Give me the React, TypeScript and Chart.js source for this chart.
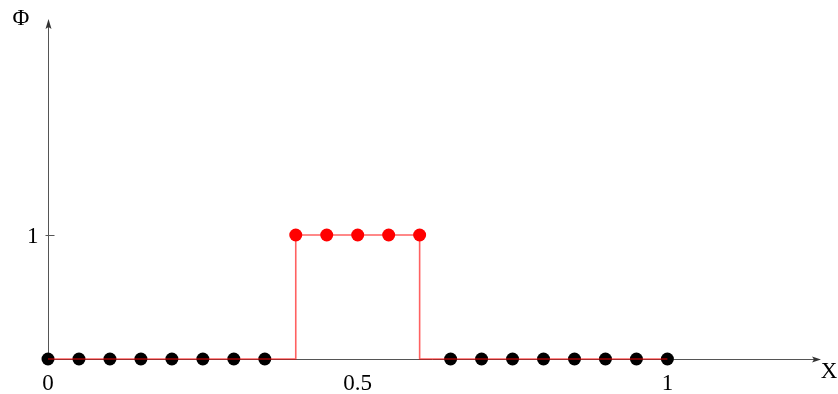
import { useEffect, useRef } from "react";
import { Chart, registerables } from "chart.js";

Chart.register(...registerables);

// ---- data ----
const blackX = [0, 0.05, 0.1, 0.15, 0.2, 0.25, 0.3, 0.35, 0.65, 0.7, 0.75, 0.8, 0.85, 0.9, 0.95, 1];
const blackY = [0, 0, 0, 0, 0, 0, 0, 0, 0, 0, 0, 0, 0, 0, 0, 0];
const redX = [0.4, 0.45, 0.5, 0.55, 0.6];
const redY = [1, 1, 1, 1, 1];
const lineX = [0, 0.4, 0.4, 0.6, 0.6, 1];
const lineY = [0, 0, 1, 1, 0, 0];
const xTickValues = [0, 0.5, 1];
const xTickLabels = ["0", "0.5", "1"];
const yTickValues = [1];
const yTickLabels = ["1"];
const xAxisTitle = "X";
const yAxisTitle = "Φ";
const X_MAX = 1.248;
const Y_MAX = 2.742;

const FONT = '23px "Liberation Serif", "Times New Roman", serif';
const AXIS_COLOR = "#555555";

const toPts = (xs: number[], ys: number[]) => xs.map((x, i) => ({ x, y: ys[i] }));

const axesPlugin = {
  id: "arrowAxes",
  beforeDatasetsDraw(chart: any) {
    const { ctx, chartArea, scales } = chart;
    const xs = scales.x;
    const ys = scales.y;
    const ox = Math.round(xs.getPixelForValue(0)) + 0.5;
    const oy = Math.round(ys.getPixelForValue(0)) + 0.5;
    const right = chartArea.right;
    const top = chartArea.top;
    ctx.save();
    ctx.strokeStyle = AXIS_COLOR;
    ctx.fillStyle = "#333333";
    ctx.lineWidth = 1;
    // x axis
    ctx.beginPath();
    ctx.moveTo(ox, oy);
    ctx.lineTo(right - 4, oy);
    ctx.stroke();
    // y axis
    ctx.beginPath();
    ctx.moveTo(ox, oy);
    ctx.lineTo(ox, top + 4);
    ctx.stroke();
    // arrowheads
    ctx.beginPath();
    ctx.moveTo(right, oy);
    ctx.lineTo(right - 9, oy - 3);
    ctx.lineTo(right - 7, oy);
    ctx.lineTo(right - 9, oy + 3);
    ctx.closePath();
    ctx.fill();
    ctx.beginPath();
    ctx.moveTo(ox, top);
    ctx.lineTo(ox - 3, top + 10);
    ctx.lineTo(ox, top + 8);
    ctx.lineTo(ox + 3, top + 10);
    ctx.closePath();
    ctx.fill();
    // y ticks
    ctx.fillStyle = "#000000";
    ctx.font = FONT;
    ctx.textAlign = "right";
    ctx.textBaseline = "middle";
    yTickValues.forEach((v, i) => {
      const py = Math.round(ys.getPixelForValue(v)) + 0.5;
      ctx.beginPath();
      ctx.moveTo(ox - 3, py);
      ctx.lineTo(ox + 6, py);
      ctx.stroke();
      ctx.fillText(yTickLabels[i], ox - 10, py + 1);
    });
    // x tick labels
    ctx.textAlign = "center";
    ctx.textBaseline = "top";
    xTickValues.forEach((v, i) => {
      const px = xs.getPixelForValue(v);
      ctx.fillText(xTickLabels[i], px, oy + 13);
    });
    // axis titles
    ctx.textAlign = "center";
    ctx.textBaseline = "middle";
    ctx.fillText(xAxisTitle, right + 8, oy + 12);
    ctx.fillText(yAxisTitle, 21, top);
    ctx.restore();
  },
};

export default function App() {
  const ref = useRef<HTMLCanvasElement | null>(null);
  useEffect(() => {
    if (!ref.current) return;
    const chart = new Chart(ref.current, {
      type: "scatter",
      data: {
        datasets: [
          {
            label: "solution",
            data: toPts(redX, redY),
            showLine: false,
            pointRadius: 6.5,
            pointBackgroundColor: "#ff0000",
            pointBorderWidth: 0,
            clip: false,
            order: 1,
          } as any,
          {
            label: "exact",
            data: toPts(lineX, lineY),
            showLine: true,
            borderColor: "rgba(255,0,0,0.62)",
            borderWidth: 1.6,
            pointRadius: 0,
            tension: 0,
            clip: false,
            order: 2,
          } as any,
          {
            label: "zero",
            data: toPts(blackX, blackY),
            showLine: false,
            pointRadius: 6.5,
            pointBackgroundColor: "#000000",
            pointBorderWidth: 0,
            clip: false,
            order: 3,
          } as any,
        ],
      },
      options: {
        animation: false,
        responsive: false,
        layout: { padding: { left: 48, right: 17, top: 19, bottom: 35 } },
        plugins: { legend: { display: false }, tooltip: { enabled: false } },
        events: [],
        scales: {
          x: { type: "linear", min: 0, max: X_MAX, display: false },
          y: { type: "linear", min: 0, max: Y_MAX, display: false },
        },
      },
      plugins: [axesPlugin],
    });
    return () => chart.destroy();
  }, []);
  return (
    <div style={{ position: "absolute", left: 0, top: 0, width: 838, height: 394, background: "#fff" }}>
      <canvas ref={ref} width={838} height={394} style={{ display: "block" }} />
    </div>
  );
}
